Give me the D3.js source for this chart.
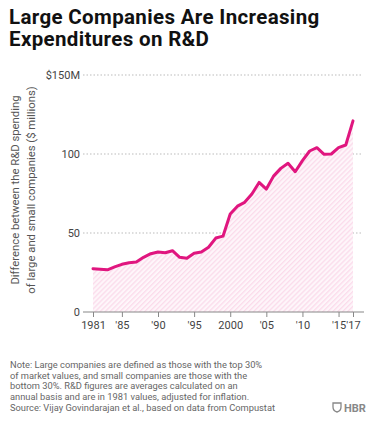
<!DOCTYPE html>
<html>
<head>
<meta charset="utf-8">
<script src="https://cdn.jsdelivr.net/npm/d3@7"></script>
<style>
  body { margin: 0; background: #fff; font-family: Roboto, "Noto Sans", sans-serif; }
  #chart { width: 372px; height: 424px; }
</style>
</head>
<body>
<div id="chart"></div>
<script>
// years 1981..2017
const years = [1981, 1982, 1983, 1984, 1985, 1986, 1987, 1988, 1989, 1990,
    1991, 1992, 1993, 1994, 1995, 1996, 1997, 1998, 1999, 2000,
    2001, 2002, 2003, 2004, 2005, 2006, 2007, 2008, 2009, 2010,
    2011, 2012, 2013, 2014, 2015, 2016, 2017];
// difference in R&D spending, $ millions
const diffValues = [27.4, 27, 26.7, 28.5, 30.2, 31.2, 31.6, 34.6, 36.9, 38,
    37.5, 38.8, 34.6, 34, 37.2, 38, 41, 46.8, 48, 62,
    67, 69.4, 74.7, 82, 77.8, 86, 90.9, 94.1, 88.8, 95.8,
    101.9, 104, 99.8, 100, 104, 105.7, 121];
const xTicks = [1981, 1985, 1990, 1995, 2000, 2005, 2010, 2015, 2017];
const xTickLabels = ["1981", "'85", "'90", "'95", "2000", "'05", "'10", "'15", "'17"];
const yTicks = [0, 50, 100, 150];
const yTickLabels = ["0", "50", "100", "$150M"];

const titleLines = ["Large Companies Are Increasing", "Expenditures on R&D"];
const yTitleLines = ["Difference between the R&D spending", "of large and small companies ($ millions)"];
const noteLines = [
    "Note: Large companies are defined as those with the top 30%",
    "of market values, and small companies are those with the",
    "bottom 30%. R&D figures are averages calculated on an",
    "annual basis and are in 1981 values, adjusted for inflation.",
    "Source: Vijay Govindarajan et al., based on data from Compustat"
];

const data = years.map((y, i) => ({ year: y, value: diffValues[i] }));

const svg = d3.select("#chart").append("svg")
    .attr("width", 372)
    .attr("height", 424);

// title
svg.append("g")
    .selectAll("text")
    .data(titleLines)
    .enter().append("text")
    .attr("x", 9)
    .attr("y", (d, i) => 24 + i * 22)
    .style("font-family", "Roboto, sans-serif")
    .style("font-weight", "700")
    .style("font-size", "20.5px")
    .style("letter-spacing", "0.35px")
    .style("fill", "#111")
    .text(d => d);

const x = d3.scaleLinear().domain([1981, 2017]).range([93, 353]);
const y = d3.scaleLinear().domain([0, 150]).range([312, 75]);

// hatch pattern
const defs = svg.append("defs");
const pat = defs.append("pattern")
    .attr("id", "hatch")
    .attr("patternUnits", "userSpaceOnUse")
    .attr("width", 3.5)
    .attr("height", 3.5)
    .attr("patternTransform", "rotate(45)");
pat.append("rect").attr("width", 3.5).attr("height", 3.5).attr("fill", "#fef6fa");
pat.append("rect").attr("width", 1.3).attr("height", 3.5).attr("fill", "#fbdbeb");

// gridlines
svg.append("g")
    .selectAll("line")
    .data(yTicks.filter(d => d > 0))
    .enter().append("line")
    .attr("x1", 83)
    .attr("x2", 363)
    .attr("y1", d => y(d))
    .attr("y2", d => y(d))
    .attr("stroke", "#aaa")
    .attr("stroke-width", 0.8)
    .attr("stroke-dasharray", "1.5,2");

// area
svg.append("path")
    .datum(data)
    .attr("fill", "url(#hatch)")
    .attr("d", d3.area().x(d => x(d.year)).y0(y(0)).y1(d => y(d.value)));

// line
svg.append("path")
    .datum(data)
    .attr("fill", "none")
    .attr("stroke", "#e0167f")
    .attr("stroke-width", 3)
    .attr("stroke-linejoin", "round")
    .attr("stroke-linecap", "round")
    .attr("d", d3.line().x(d => x(d.year)).y(d => y(d.value)));

// x axis
const xAxis = d3.axisBottom(x)
    .tickValues(xTicks)
    .tickFormat((d, i) => xTickLabels[i])
    .tickSize(5)
    .tickSizeOuter(0);
const gx = svg.append("g")
    .attr("transform", `translate(0,${y(0)})`)
    .call(xAxis);
gx.select(".domain").remove();
gx.append("line")
    .attr("x1", 83).attr("x2", 364)
    .attr("stroke", "#888").attr("stroke-width", 1.2);
gx.selectAll(".tick line").attr("stroke", "#888");
gx.selectAll(".tick text")
    .attr("y", 9)
    .style("font-family", "Roboto, sans-serif")
    .style("font-size", "11px")
    .style("fill", "#444");

// y labels
svg.append("g")
    .selectAll("text")
    .data(yTicks)
    .enter().append("text")
    .attr("x", 80)
    .attr("y", d => y(d))
    .attr("dy", "0.35em")
    .attr("text-anchor", "end")
    .style("font-family", "Roboto, sans-serif")
    .style("font-size", "11px")
    .style("fill", "#444")
    .text((d, i) => yTickLabels[i]);

// y title
svg.append("g")
    .attr("transform", "translate(0,190) rotate(-90)")
    .selectAll("text")
    .data(yTitleLines)
    .enter().append("text")
    .attr("x", 0)
    .attr("y", (d, i) => 19 + i * 16)
    .attr("text-anchor", "middle")
    .style("font-family", "Roboto, sans-serif")
    .style("font-size", "11.3px")
    .style("fill", "#555")
    .text(d => d);

// notes
svg.append("g")
    .selectAll("text")
    .data(noteLines)
    .enter().append("text")
    .attr("x", 10)
    .attr("y", (d, i) => 368 + i * 10.7)
    .style("font-family", "Roboto, sans-serif")
    .style("font-size", "9.3px")
    .style("fill", "#666")
    .text(d => d);

// HBR mark
const logo = svg.append("g").attr("transform", "translate(333,410)");
logo.append("path")
    .attr("d", "M0,-7 H8 V-3 Q8,1 4,2 Q0,1 0,-3 Z")
    .attr("fill", "none")
    .attr("stroke", "#888")
    .attr("stroke-width", 1.3);
logo.append("text")
    .attr("x", 11)
    .attr("y", 1.5)
    .style("font-family", "Roboto, sans-serif")
    .style("font-weight", "700")
    .style("font-size", "11px")
    .style("fill", "#888")
    .text("HBR");
</script>
</body>
</html>
